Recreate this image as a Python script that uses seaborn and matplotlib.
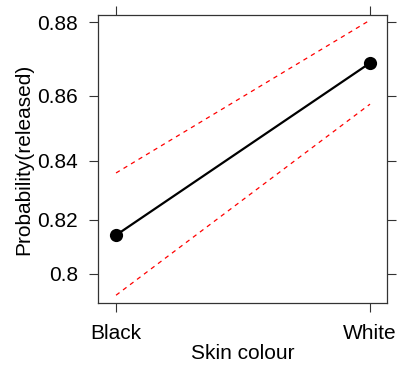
import matplotlib
matplotlib.use("Agg")
import matplotlib.pyplot as plt
from matplotlib.ticker import FixedLocator, FixedFormatter, NullLocator
import seaborn as sns
import pandas as pd

categories = ["Black", "White"]
fit = [0.8144, 0.8692]
lower = [0.7915, 0.8575]
upper = [0.8360, 0.8805]
ytick_vals = [0.80, 0.82, 0.84, 0.86, 0.88]
ytick_labels = ["0.8", "0.82", "0.84", "0.86", "0.88"]

sns.set_style("white")
plt.rcParams["font.family"] = ["Liberation Sans", "DejaVu Sans"]
plt.rcParams["text.color"] = "black"
plt.rcParams["axes.labelcolor"] = "black"
plt.rcParams["xtick.color"] = "black"
plt.rcParams["ytick.color"] = "black"

df = pd.DataFrame({"x": range(len(categories)), "fit": fit, "lower": lower, "upper": upper})

fig = plt.figure(figsize=(3.99, 3.65), dpi=100)
ax = fig.add_axes([0.2456, 0.1699, 0.970 - 0.2456, 0.9589 - 0.1699])

sns.lineplot(data=df, x="x", y="upper", ax=ax, color="red", lw=0.9, dashes=False)
sns.lineplot(data=df, x="x", y="lower", ax=ax, color="red", lw=0.9, dashes=False)
for l in ax.lines:
    l.set_dashes((3.5, 3.5))
sns.lineplot(data=df, x="x", y="fit", ax=ax, color="black", lw=1.6,
             marker="o", markersize=9.5, markeredgewidth=0)

ax.set_yscale("logit")
ax.set_ylim(0.7884, 0.8818)
ax.set_xlim(-0.071, 1.067)
ax.yaxis.set_major_locator(FixedLocator(ytick_vals))
ax.yaxis.set_major_formatter(FixedFormatter(ytick_labels))
ax.yaxis.set_minor_locator(NullLocator())
ax.set_xticks(range(len(categories)))
ax.set_xticklabels(categories)

ax.tick_params(axis="both", which="major", direction="out", length=6.5, width=0.8,
               color="#333333", labelcolor="black", labelsize=15, top=True, right=True,
               labeltop=False, labelright=False, bottom=True, left=True)
ax.tick_params(axis="x", pad=8.5)
ax.tick_params(axis="y", pad=8)
for s in ax.spines.values():
    s.set_color("#333333")
    s.set_linewidth(0.9)

ax.set_xlabel("Skin colour", fontsize=15, labelpad=1, color="black")
ax.set_ylabel("Probability(released)", fontsize=15, labelpad=2.5, color="black")

fig.savefig("out.png", dpi=100)
